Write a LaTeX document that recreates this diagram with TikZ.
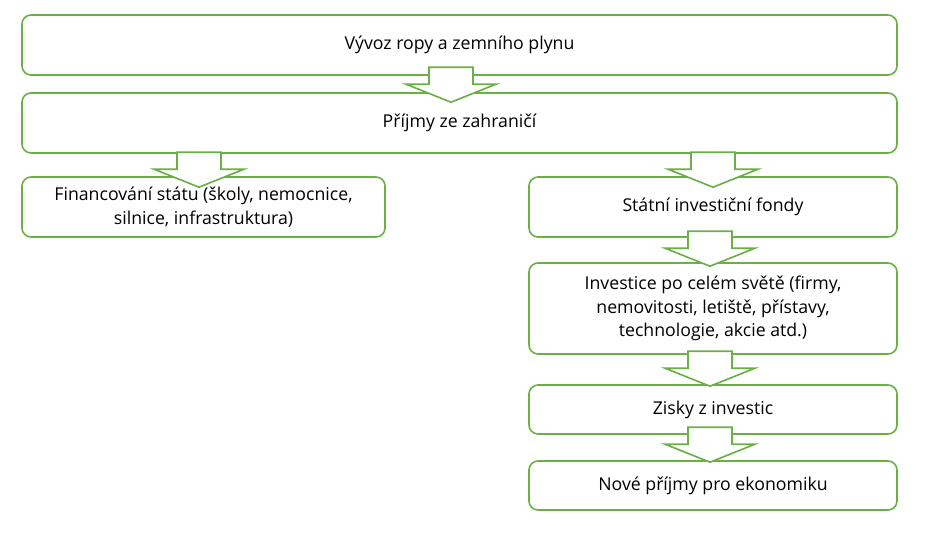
\documentclass[tikz,border=0pt]{standalone}
\usepackage{fontspec}
\setmainfont{Open Sans}
\usetikzlibrary{calc}
\definecolor{zelena}{RGB}{106,176,68}

\begin{document}
\begin{tikzpicture}[x=1pt,y=-1pt,
    box/.style={draw=zelena, line width=1.6pt, fill=white, rounded corners=9pt,
        inner sep=0pt, align=center, font=\fontsize{17.7}{23.5}\selectfont},
    seta/.pic={
        \draw[zelena, line width=1.6pt, fill=white, line join=miter]
            (-22,-35) -- (22,-35) -- (22,-18) -- (45,-18) -- (0,0)
            -- (-45,-18) -- (-22,-18) -- cycle;
    }]
    \useasboundingbox (0,0) rectangle (945,533);

    % Boxy
    \node[box, minimum width=875pt, minimum height=60pt] (vyvoz) at (459.5,45) {Vývoz ropy a zemního plynu};
    \node[box, minimum width=875pt, minimum height=60pt] (prijmy) at (459.5,123) {Příjmy ze zahraničí};
    \node[box, minimum width=363pt, minimum height=60pt] (financovani) at (203.5,207)
        {Financování státu (školy, nemocnice,\\ silnice, infrastruktura)};
    \node[box, minimum width=368pt, minimum height=60pt] (fondy) at (713,207) {Státní investiční fondy};
    \node[box, minimum width=368pt, minimum height=91pt] (investice) at (713,308.5)
        {Investice po celém světě (firmy,\\ nemovitosti, letiště, přístavy,\\ technologie, akcie atd.)};
    \node[box, minimum width=368pt, minimum height=49pt] (zisky) at (713,409.5) {Zisky z investic};
    \node[box, minimum width=368pt, minimum height=49pt] (nove) at (713,485.5) {Nové příjmy pro ekonomiku};

    % Sipky
    \pic at ($(prijmy.north)+(-8.5,10)$) {seta};
    \pic at ($(financovani.north)+(-4.5,11)$) {seta};
    \pic at ($(fondy.north)+(0,11)$) {seta};
    \pic at ($(investice.north)+(-3,4)$) {seta};
    \pic at ($(zisky.north)+(-3,2)$) {seta};
    \pic at ($(nove.north)+(-3,2)$) {seta};

\end{tikzpicture}
\end{document}
